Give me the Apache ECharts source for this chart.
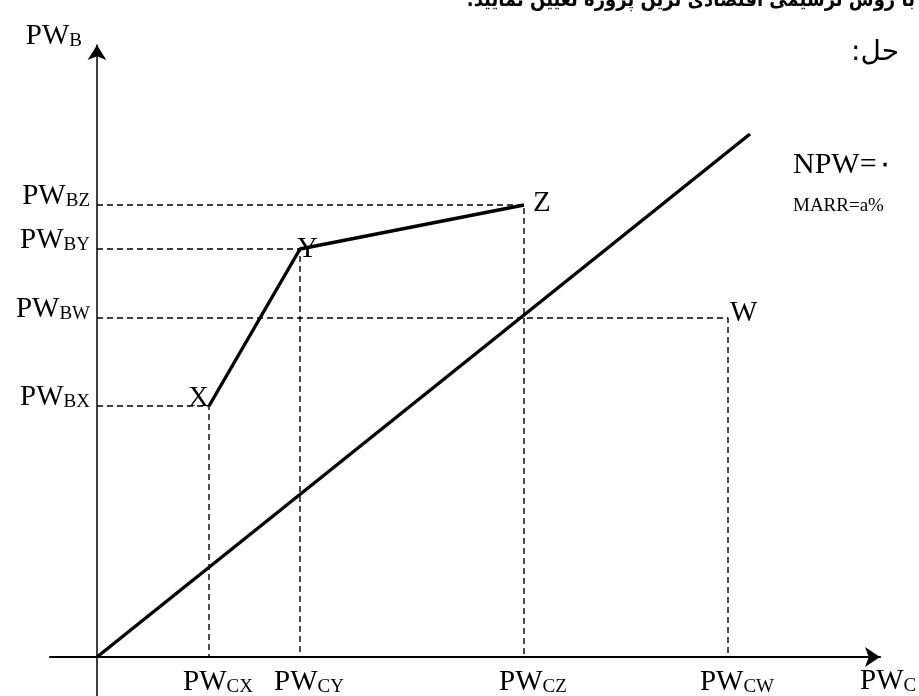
<!DOCTYPE html>
<html>
<head>
<meta charset="utf-8">
<script src="https://cdn.jsdelivr.net/npm/echarts@6/dist/echarts.min.js"></script>
<style>
html, body { margin: 0; padding: 0; background: #fff; }
#chart { width: 919px; height: 696px; }
</style>
</head>
<body>
<div id="chart"></div>
<script>
// values (units = px from the origin)
let projects = ["X", "Y", "Z", "W"];
let pwCost = [112, 203, 427, 631];
let pwBenefit = [251, 408, 452, 339];
// solid path through the projects
let frontier = ["X", "Y", "Z"];
// NPW = 0 line
let breakEvenX = [0, 653];
let breakEvenY = [0, 523];
// tick label subscripts
let xTickSubs = ["CX", "CY", "CZ", "CW"];
let yTickSubs = ["BX", "BY", "BZ", "BW"];

let serif = "Liberation Serif";
let rich = {
  a: { fontFamily: serif, fontSize: 29, color: "#000", verticalAlign: "bottom" },
  b: { fontFamily: serif, fontSize: 19, color: "#000", verticalAlign: "bottom" }
};

// label placement of each project letter
let letterPos = {
  X: { position: "left", distance: 0, offset: [0, -8] },
  Y: { position: "right", distance: -3, offset: [0, 0] },
  Z: { position: "right", distance: 9, offset: [0, -2] },
  W: { position: "right", distance: 2, offset: [0, -5] }
};

let dashed = { color: "#000", width: 1.4, type: [6, 4] };

let series = [];

// guide lines from each project to both axes
projects.forEach(function (p, i) {
  series.push({
    type: "line",
    data: [[0, pwBenefit[i]], [pwCost[i], pwBenefit[i]], [pwCost[i], 0]],
    symbol: "none",
    lineStyle: dashed,
    silent: true,
    z: 1
  });
});

series.push({
  type: "line",
  data: frontier.map(function (p) {
    let i = projects.indexOf(p);
    return [pwCost[i], pwBenefit[i]];
  }),
  symbol: "none",
  lineStyle: { color: "#000", width: 3.4 },
  z: 3
});

series.push({
  type: "line",
  data: breakEvenX.map(function (x, i) { return [x, breakEvenY[i]]; }),
  symbol: "none",
  lineStyle: { color: "#000", width: 3.4 },
  z: 3
});

series.push({
  type: "scatter",
  symbolSize: 0,
  data: projects.map(function (p, i) {
    return {
      value: [pwCost[i], pwBenefit[i]],
      name: p,
      label: Object.assign({ show: true, color: "#000" }, letterPos[p])
    };
  }),
  label: {
    formatter: "{b}",
    fontFamily: serif,
    fontSize: 29,
    color: "#000"
  },
  itemStyle: { opacity: 1 },
  z: 4
});

let myChart = echarts.init(document.getElementById("chart"));
myChart.setOption({
  animation: false,
  backgroundColor: "#fff",
  grid: { left: 50, right: 39, top: 45, bottom: 0, containLabel: false, outerBoundsMode: "none" },
  xAxis: {
    type: "value",
    min: -47,
    max: 783,
    splitLine: { show: false },
    axisTick: { show: false },
    axisLine: {
      onZero: true,
      symbol: ["none", "arrow"],
      symbolSize: [15, 15],
      lineStyle: { color: "#000", width: 2.2 }
    },
    axisLabel: {
      customValues: pwCost,
      margin: -28,
      padding: [0, 0, 0, 18],
      formatter: function (v) {
        return "{a|PW}{b|" + xTickSubs[pwCost.indexOf(v)] + "}";
      },
      rich: rich
    },
    name: "{a|PW}{b|C}",
    nameLocation: "end",
    nameGap: -20,
    nameTextStyle: { rich: rich, verticalAlign: "top", padding: [10, 0, 0, 0] }
  },
  yAxis: {
    type: "value",
    min: -39,
    max: 612,
    splitLine: { show: false },
    axisTick: { show: false },
    axisLine: {
      onZero: true,
      symbol: ["none", "arrow"],
      symbolSize: [14, 15],
      lineStyle: { color: "#000", width: 1.5 }
    },
    axisLabel: {
      customValues: pwBenefit,
      margin: -40,
      padding: [0, 0, 17, 0],
      formatter: function (v) {
        return "{a|PW}{b|" + yTickSubs[pwBenefit.indexOf(v)] + "}";
      },
      rich: rich
    },
    name: "{a|PW}{b|B}",
    nameLocation: "end",
    nameGap: -6,
    nameTextStyle: { rich: rich, align: "right", verticalAlign: "bottom", padding: [0, 15, 0, 0] }
  },
  graphic: [
    {
      type: "text", right: 4, top: -9,
      style: { text: "با روش ترسیمی اقتصادی ترین پروژه تعیین نمایید.\u200F", font: "bold 20px 'DejaVu Sans Condensed'", fill: "#000" }
    },
    {
      type: "text", right: 20, top: 39,
      style: { text: "حل:\u200F", font: "28px 'DejaVu Sans'", fill: "#000" }
    },
    {
      type: "text", left: 793, top: 150,
      style: { text: "NPW=۰", font: "30px 'Liberation Serif'", fill: "#000" }
    },
    {
      type: "text", left: 793, top: 197,
      style: { text: "MARR=a%", font: "19px 'Liberation Serif'", fill: "#000" }
    }
  ],
  series: series
});
</script>
</body>
</html>
